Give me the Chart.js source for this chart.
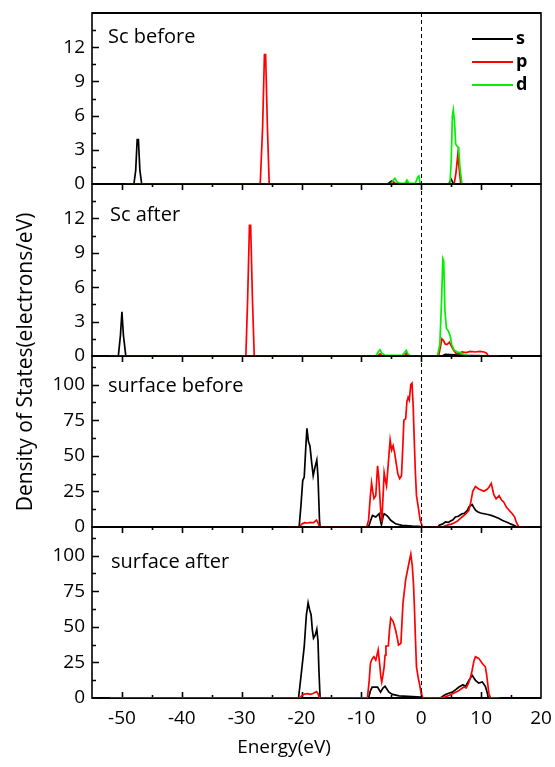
<!DOCTYPE html>
<html>
<head>
<meta charset="utf-8">
<script src="https://cdn.jsdelivr.net/npm/chart.js@4.4.0/dist/chart.umd.min.js"></script>
<style>
html,body{margin:0;padding:0;background:#fff;}
#wrap{position:relative;width:555px;height:767px;background:#fff;}
#wrap canvas{position:absolute;left:0;top:0;}
</style>
</head>
<body>
<div id="wrap">
<canvas id="c0" width="555" height="767"></canvas>
<canvas id="c1" width="555" height="767"></canvas>
<canvas id="c2" width="555" height="767"></canvas>
<canvas id="c3" width="555" height="767"></canvas>
</div>
<script>
// ---------------- DATA ----------------
const panelNames = ['Sc before', 'Sc after', 'surface before', 'surface after'];
const orbitalNames = ['s', 'p', 'd'];
const xTicks = [-50, -40, -30, -20, -10, 0, 10, 20];
const yTicksSc = [0, 3, 6, 9, 12];
const yTicksSurface = [0, 25, 50, 75, 100];
const xAxisTitle = 'Energy(eV)';
const yAxisTitle = 'Density of States(electrons/eV)';

// [energy (eV), DOS]
const scBefore_s = [[-49.3,0],[-48.0,0],[-47.7,1.2],[-47.45,3.9],[-47.25,3.9],[-47.0,1.2],[-46.7,0],[-5.6,0],[-5.0,0.25],[-4.6,0.05],[-2.5,0],[4.6,0],[5.0,0.4],[5.4,0],[8.4,0]];
const scBefore_p = [[-49.3,0],[-26.9,0],[-26.5,5],[-26.2,11.35],[-26.0,11.35],[-25.7,5],[-25.4,0],[-5.2,0],[-4.7,0.25],[-4.3,0],[-2.7,0],[-2.3,0.2],[-2.0,0],[5.5,0],[5.8,1.0],[6.1,2.55],[6.3,1.5],[6.6,0],[8.4,0]];
const scBefore_d = [[-49.3,0],[-5.0,0],[-4.7,0.35],[-4.4,0.5],[-4.1,0.2],[-3.6,0.05],[-2.7,0.05],[-2.4,0.35],[-2.1,0.05],[-1.0,0.05],[-0.6,0.6],[-0.4,0.7],[-0.2,0.1],[0,0],[4.8,0],[5.0,2.0],[5.2,6.0],[5.35,6.5],[5.55,5.5],[5.75,3.5],[6.0,3.3],[6.25,3.2],[6.45,1.5],[6.8,0],[8.4,0]];

const scAfter_s = [[-52,0],[-50.6,0],[-50.25,1.8],[-50.0,3.86],[-49.75,1.8],[-49.35,0],[3.5,0],[4.0,0.15],[5.5,0.1],[7.0,0.05],[13,0]];
const scAfter_p = [[-52,0],[-29.3,0],[-29.0,5],[-28.7,11.4],[-28.5,11.4],[-28.2,5],[-27.9,0],[-7.3,0],[-6.9,0.2],[-6.5,0],[-2.8,0],[-2.5,0.25],[-2.2,0],[2.9,0],[3.2,0.8],[3.45,1.5],[3.7,1.35],[4.0,1.05],[4.3,1.0],[4.7,1.2],[5.0,0.9],[5.4,0.5],[5.8,0.25],[6.3,0.2],[6.8,0.35],[7.5,0.3],[8.2,0.4],[9.0,0.35],[9.8,0.4],[10.5,0.35],[10.9,0.25],[11.2,0],[13,0]];
const scAfter_d = [[-52,0],[-7.6,0],[-7.2,0.35],[-6.9,0.55],[-6.6,0.25],[-6.0,0.05],[-3.2,0.05],[-2.8,0.3],[-2.5,0.5],[-2.2,0.15],[-1.8,0],[2.7,0],[3.1,1.0],[3.4,5.0],[3.6,8.5],[3.75,8.3],[3.95,4.0],[4.2,2.4],[4.5,2.2],[4.8,1.8],[5.1,1.0],[5.5,0.5],[6.0,0.35],[6.6,0.3],[7.2,0.1],[8,0],[13,0]];

const surfBefore_s = [[-22,0],[-20.4,0],[-20.1,15],[-19.8,32.6],[-19.55,35],[-19.3,55],[-19.1,69.3],[-18.85,60],[-18.6,57],[-18.3,45],[-18.05,36],[-17.75,42],[-17.45,47],[-17.25,35],[-17.0,5],[-16.9,0],[-8.8,0],[-8.5,4],[-8.15,8.1],[-7.6,7],[-7.05,9.3],[-6.8,4],[-6.65,1.5],[-6.4,7],[-6.2,9.3],[-5.9,8.5],[-5.65,7.7],[-5.1,4.7],[-4.3,2.3],[-3.2,1.2],[-1.5,0.7],[-0.4,0.5],[0.1,0],[2.8,0],[3.0,1.2],[3.5,2.0],[4.05,3.5],[4.5,3.2],[4.9,4.2],[5.3,5.0],[5.7,7],[6.2,7.5],[6.8,9.3],[7.2,9.5],[7.7,11.6],[7.95,14],[8.5,15.8],[8.8,13.5],[9.1,11.6],[9.5,10.5],[9.9,9.8],[10.5,9.3],[11.3,8.6],[11.8,8.0],[12.4,7],[13.0,6.0],[13.5,4.7],[14.0,3.8],[14.6,2.8],[15.0,2.0],[15.45,1.2],[16,0],[18,0]];
const surfBefore_p = [[-22,0],[-20.3,0],[-20.0,2],[-19.5,3],[-19.0,2.8],[-18.5,3.2],[-18.0,3],[-17.5,4.8],[-17.25,3],[-17.0,0],[-9.1,0],[-8.8,5],[-8.5,22],[-8.3,31],[-8.1,25],[-7.9,20],[-7.6,22],[-7.3,43],[-7.1,35],[-6.9,20],[-6.75,10],[-6.6,3.5],[-6.4,20],[-6.2,38],[-6.0,33],[-5.8,29],[-5.5,45],[-5.2,61],[-4.95,54],[-4.7,57],[-4.45,52],[-4.2,45],[-3.9,37],[-3.6,34],[-3.3,36],[-3.1,55],[-2.9,75],[-2.6,76],[-2.4,88],[-2.2,91],[-2.0,89],[-1.75,100],[-1.55,101],[-1.35,85],[-1.2,65],[-1.0,40],[-0.8,22],[-0.5,14],[-0.2,5],[0.2,0],[3.6,0],[4.0,0.8],[4.5,1.5],[5.0,2],[5.45,2.8],[6.0,4],[6.8,7],[7.4,9],[7.95,11.6],[8.3,18],[8.6,25],[9.05,28.4],[9.6,26.7],[10.0,26],[10.45,25.1],[11.0,26.5],[11.3,27.9],[11.7,30.5],[12.1,22.8],[12.5,19.8],[13.0,22],[13.4,19],[13.8,17.4],[14.2,14],[14.6,12.1],[15.2,9.3],[15.6,7],[15.9,3],[16.3,0],[18,0]];

const surfAfter_s = [[-52,0],[-20.5,0],[-20.1,15],[-19.55,36],[-19.2,58],[-18.9,66.8],[-18.65,62],[-18.4,58.5],[-18.2,48],[-18.0,42],[-17.7,44.3],[-17.45,48.3],[-17.25,40],[-17.1,20],[-16.9,0],[-8.8,0],[-8.5,5],[-8.2,7.7],[-7.3,7.7],[-6.8,4.1],[-6.4,7],[-6.05,8.2],[-5.7,6],[-5.4,4.1],[-4.8,2.5],[-3.7,1.5],[-1.5,1],[-0.1,0.6],[0.2,0],[3.2,0],[3.6,1.2],[4.05,2.5],[4.6,3.3],[5.2,4.1],[5.8,6],[6.3,7.7],[6.95,9.3],[7.4,8.2],[7.95,12.4],[8.5,16],[9.05,12.4],[9.6,10.5],[10.2,11.2],[10.7,8.2],[11.0,4],[11.2,0],[13,0]];
const surfAfter_p = [[-52,0],[-20.3,0],[-20.0,1.5],[-19.5,2.8],[-19.0,3],[-18.5,2.5],[-18.0,3.3],[-17.5,4.5],[-17.25,3],[-17.0,0],[-9.0,0],[-8.7,12],[-8.5,24],[-8.3,26.6],[-8.1,28],[-7.9,29],[-7.6,26.6],[-7.4,30],[-7.2,33.7],[-6.9,21.9],[-6.75,15],[-6.6,11.2],[-6.4,16],[-6.2,21.9],[-6.05,30],[-5.9,36.5],[-5.5,36.5],[-5.3,48],[-5.1,56.1],[-4.7,53.8],[-4.3,47.9],[-4.0,42],[-3.8,37.2],[-3.4,38.4],[-3.2,55],[-3.05,66.8],[-2.6,83.3],[-2.15,92.8],[-1.75,101],[-1.5,92.8],[-1.3,80],[-1.15,64.4],[-1.0,45],[-0.8,21.9],[-0.5,14],[-0.3,10],[0.0,3],[0.3,0],[3.2,0],[4.0,0.8],[4.6,1.8],[5.5,3.5],[6.3,5.3],[7.1,7.7],[7.5,7],[7.85,10],[8.2,14],[8.5,19.5],[8.8,26],[9.05,29],[9.6,27.8],[10.2,24.2],[10.7,21.9],[10.9,17],[11.1,10],[11.3,3],[11.6,0],[13,0]];

// ---------------- STYLE / LAYOUT ----------------
const FONT = "'Open Sans', 'DejaVu Sans', sans-serif";
const W = 555, H = 767;
const LEFT = 92, RIGHT = 541, XAXIS_H = 34;
const colors = { s: '#000000', p: '#ff0000', d: '#00f000' };
const panels = [
  { top: 13,  bottom: 184, ymax: 15,  yTicks: yTicksSc,      minor: 1.5,  series: { s: scBefore_s, p: scBefore_p, d: scBefore_d }, labelX: 108, labelY: 43 },
  { top: 184, bottom: 356, ymax: 15,  yTicks: yTicksSc,      minor: 1.5,  series: { s: scAfter_s, p: scAfter_p, d: scAfter_d },    labelX: 110, labelY: 221 },
  { top: 356, bottom: 527, ymax: 120, yTicks: yTicksSurface, minor: 12.5, series: { s: surfBefore_s, p: surfBefore_p },         labelX: 108, labelY: 392 },
  { top: 527, bottom: 698, ymax: 120, yTicks: yTicksSurface, minor: 12.5, series: { s: surfAfter_s, p: surfAfter_p },           labelX: 111, labelY: 568 }
];

function panelPlugin(i) {
  const P = panels[i];
  return {
    id: 'panel' + i,
    beforeDatasetsDraw(chart) {
      const { ctx, chartArea: a, scales: { x, y } } = chart;
      ctx.save();
      ctx.strokeStyle = '#000';
      ctx.lineWidth = 1.6;
      ctx.strokeRect(a.left, a.top, a.right - a.left, a.bottom - a.top);
      ctx.lineWidth = 2.2;
      ctx.beginPath(); ctx.moveTo(a.left, a.bottom); ctx.lineTo(a.right, a.bottom); ctx.stroke();
      if (i === 0) { ctx.beginPath(); ctx.moveTo(a.left, a.top); ctx.lineTo(a.right, a.top); ctx.stroke(); }
      ctx.lineWidth = 1.6;
      ctx.beginPath();
      // y ticks (inward)
      for (let v = P.minor; v < P.ymax - 1e-6; v += P.minor) {
        const major = P.yTicks.some(t => Math.abs(t - v) < 1e-6);
        const py = Math.round(y.getPixelForValue(v)) + 0.5;
        ctx.moveTo(a.left, py); ctx.lineTo(a.left + (major ? 7 : 4), py);
      }
      // x ticks
      for (let v = -50; v < 20; v += 5) {
        const major = v % 10 === 0;
        const px = Math.round(x.getPixelForValue(v)) + 0.5;
        const len = major ? 6 : 3;
        if (i === 3) { ctx.moveTo(px, a.bottom); ctx.lineTo(px, a.bottom - len); }
        else { ctx.moveTo(px, a.bottom); ctx.lineTo(px, a.bottom + len); }
      }
      ctx.stroke();
      ctx.restore();
    },
    afterDatasetsDraw(chart) {
      const { ctx, chartArea: a, scales: { x } } = chart;
      ctx.save();
      // Fermi level dashed line
      const x0 = Math.round(x.getPixelForValue(0)) + 0.5;
      ctx.strokeStyle = '#000';
      ctx.lineWidth = 1;
      ctx.setLineDash([4, 3]);
      ctx.beginPath(); ctx.moveTo(x0, a.top); ctx.lineTo(x0, a.bottom); ctx.stroke();
      ctx.setLineDash([]);
      // panel label
      ctx.fillStyle = '#000';
      ctx.font = '20px ' + FONT;
      ctx.textAlign = 'left';
      ctx.textBaseline = 'alphabetic';
      ctx.fillText(panelNames[i], P.labelX, P.labelY);
      if (i === 0) {
        // legend
        const ly = [39, 62, 85];
        chart.data.datasets.forEach((ds, k) => {
          ctx.strokeStyle = ds.borderColor;
          ctx.lineWidth = 2;
          ctx.beginPath(); ctx.moveTo(472, ly[k]); ctx.lineTo(513, ly[k]); ctx.stroke();
          ctx.fillStyle = '#000';
          ctx.font = 'bold 18px ' + FONT;
          ctx.fillText(ds.label, 516, ly[k] + 5);
        });
      }
      if (i === 3) {
        ctx.fillStyle = '#000';
        ctx.font = '19px ' + FONT;
        ctx.textAlign = 'center';
        ctx.textBaseline = 'alphabetic';
        ctx.fillText(xAxisTitle, 284, 753);
        ctx.save();
        ctx.translate(26, 362);
        ctx.rotate(-Math.PI / 2);
        ctx.textBaseline = 'middle';
        ctx.font = '21px ' + FONT;
        ctx.fillText(yAxisTitle, 0, 0);
        ctx.restore();
      }
      ctx.restore();
    }
  };
}

panels.forEach((P, i) => {
  const isLast = i === 3;
  const datasets = Object.keys(P.series).map((k) => ({
    label: k,
    data: P.series[k].map(([e, v]) => ({ x: e, y: v })),
    borderColor: colors[k],
    backgroundColor: colors[k],
    borderWidth: 1.7,
    pointRadius: 0,
    tension: 0,
    fill: false,
    order: 3 - orbitalNames.indexOf(k)
  }));
  const xScale = {
    type: 'linear', min: -55, max: 20, display: isLast,
    afterBuildTicks: (s) => { s.ticks = xTicks.map(v => ({ value: v })); },
    afterFit: (s) => { if (isLast) s.height = XAXIS_H; s.paddingLeft = 0; s.paddingRight = 0; },
    grid: { display: false, drawTicks: false },
    border: { display: false },
    ticks: { padding: 9, color: '#000', maxRotation: 0, autoSkip: false, font: { family: FONT, size: 19 } }
  };
  new Chart(document.getElementById('c' + i), {
    type: 'line',
    data: { datasets },
    options: {
      responsive: false,
      animation: false,
      events: [],
      layout: { padding: { top: P.top, bottom: isLast ? H - P.bottom - XAXIS_H : H - P.bottom, left: 0, right: W - RIGHT } },
      plugins: { legend: { display: false }, tooltip: { enabled: false }, title: { display: false } },
      scales: {
        x: xScale,
        y: {
          type: 'linear', min: 0, max: P.ymax,
          afterBuildTicks: (s) => { s.ticks = P.yTicks.map(v => ({ value: v })); },
          afterFit: (s) => { s.width = LEFT; s.paddingTop = 0; s.paddingBottom = 0; },
          grid: { display: false, drawTicks: false },
          border: { display: false },
          ticks: { padding: 7, color: '#000', font: { family: FONT, size: 19 } }
        }
      }
    },
    plugins: [panelPlugin(i)]
  });
});
</script>
</body>
</html>
